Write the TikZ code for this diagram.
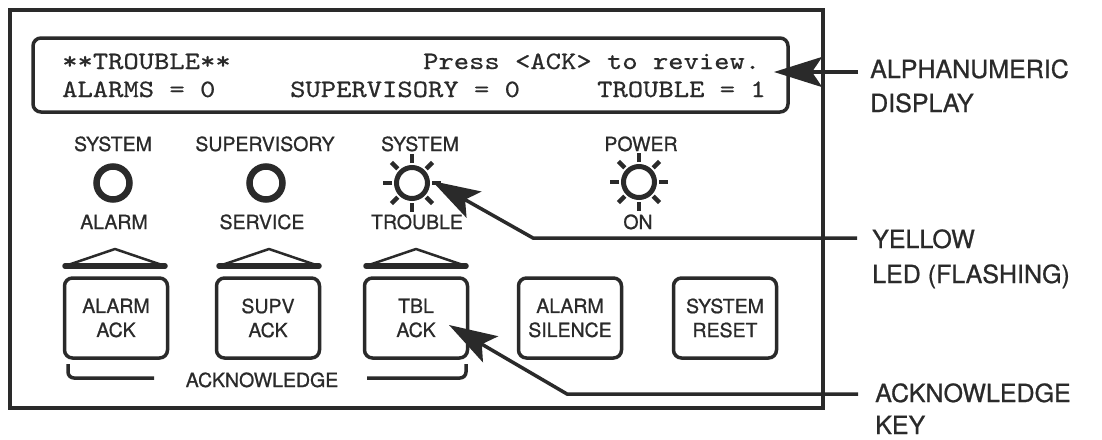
\documentclass[tikz,border=0pt]{standalone}
\usepackage{fontspec}
\usepackage{graphicx}
\setmainfont{TeX Gyre Heros}[FakeBold=0.8]
\newfontfamily\dispfont{lmmono10-regular.otf}[FakeBold=0.5]
\usetikzlibrary{arrows.meta}
\definecolor{ink}{RGB}{42,42,42}
\tikzset{
  lab/.style={font=\fontsize{19.5}{24}\selectfont, text=ink, inner sep=0, anchor=base},
  callout/.style={font=\fontsize{25}{34}\selectfont, text=ink, inner sep=0, anchor=base west},
  mono/.style={font=\dispfont\fontsize{25}{25}\selectfont, text=ink, inner sep=0, anchor=base west},
  btn/.style={draw=ink, line width=3.5, rounded corners=8, minimum width=103, minimum height=80,
    align=center, font=\fontsize{19.5}{24}\selectfont, text=ink, inner sep=0},
  led/.style={circle, draw=ink, line width=6.5, minimum size=33, inner sep=0},
  sunc/.style={circle, draw=ink, line width=5, minimum size=31, inner sep=0},
  ray/.style={draw=ink, line width=4.5},
  frame/.style={draw=ink, line width=3.5},
  hatside/.style={draw=ink, line width=2.5, line join=round},
  hatbase/.style={draw=ink, line width=5.5, line cap=round},
  bracket/.style={draw=ink, line width=3.5, rounded corners=6},
  arr/.style={draw=ink, line width=3.5, -{Stealth[length=48pt, width=30pt, inset=10pt]}},
}
\begin{document}
\begin{tikzpicture}[x=1pt, y=-1pt]
\useasboundingbox[fill=white] (0,0) rectangle (1102,439);

% outer panel and display
\node[frame, minimum width=813, minimum height=398, inner sep=0] (panel) at (416.5,209) {};
\node[frame, rounded corners=8, minimum width=755, minimum height=74, inner sep=0] (disp) at (410.5,75) {};

% display text
\node[mono] (t1) at (62,69) {\scalebox{1.167}[1]{**TROUBLE**}};
\node[mono] (t2) at (423,69) {\scalebox{1.167}[1]{Press <ACK> to review.}};
\node[mono] (t3) at (62,97) {\scalebox{1.167}[1]{ALARMS = 0}};
\node[mono] (t4) at (290,97) {\scalebox{1.167}[1]{SUPERVISORY = 0}};
\node[mono] (t5) at (597,97) {\scalebox{1.167}[1]{TROUBLE = 1}};

% LED labels
\node[lab] (s1) at (113,151) {SYSTEM};
\node[lab] (s2) at (265,151) {SUPERVISORY};
\node[lab] (s3) at (420,151) {SYSTEM};
\node[lab] (s4) at (641,151) {POWER};
\node[lab] (u1) at (114,229) {ALARM};
\node[lab] (u2) at (262,229) {SERVICE};
\node[lab] (u3) at (417,229) {TROUBLE};
\node[lab] (u4) at (638,229) {ON};

% LEDs
\node[led] (l1) at (113,183) {};
\node[led] (l2) at (266,183) {};
\node[sunc] (l3) at (412,183) {};
\node[sunc] (l4) at (639,182) {};
\foreach \a in {0,45,...,315} {
  \draw[ray, shift={(l3.center)}] (\a:20) -- (\a:29);
  \draw[ray, shift={(l4.center)}] (\a:20) -- (\a:29);
}

% hats above acknowledge keys
\foreach \c in {115,269,416} {
  \draw[hatside] (\c-50,266) -- (\c,249) -- (\c+50,266);
  \draw[hatbase] (\c-50,266) -- (\c+50,266);
}

% keys
\node[btn] (b1) at (116,318) {ALARM\\ACK};
\node[btn] (b2) at (268,318) {SUPV\\ACK};
\node[btn] (b3) at (416,318) {TBL\\ACK};
\node[btn] (b4) at (570,318) {ALARM\\SILENCE};
\node[btn] (b5) at (725,318) {SYSTEM\\RESET};

% acknowledge bracket
\node[lab] (ackl) at (262,387) {ACKNOWLEDGE};
\draw[bracket] (68,364) -- (68,378) -- (154,378);
\draw[bracket] (367,378) -- (466,378) -- (466,364);

% callouts
\node[callout] (c1a) at (870,78) {ALPHANUMERIC};
\node[callout] (c1b) at (870,112) {DISPLAY};
\node[callout] (c2a) at (872,248) {YELLOW};
\node[callout] (c2b) at (872,283) {LED (FLASHING)};
\node[callout] (c3a) at (875,402) {ACKNOWLEDGE};
\node[callout] (c3b) at (875,434) {KEY};

\coordinate (a0) at (858,72);
\coordinate (atip) at (774,72);
\coordinate (y0) at (857,238);
\coordinate (y1) at (533,238);
\coordinate (ytip) at (432,181);
\coordinate (k0) at (858,394);
\coordinate (k1) at (567,394);
\coordinate (ktip) at (449,325);

\draw[arr] (a0) -- (atip);
\draw[arr] (y0) -- (y1) -- (ytip);
\draw[arr] (k0) -- (k1) -- (ktip);
\end{tikzpicture}
\end{document}
